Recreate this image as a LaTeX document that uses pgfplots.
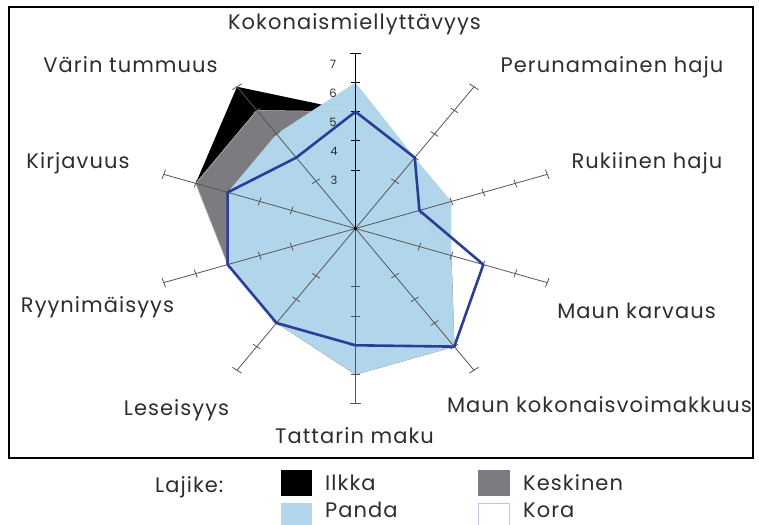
\documentclass[border=0pt]{standalone}
\usepackage{pgfplots}
\usepackage{pgfplotstable}
\pgfplotsset{compat=1.18}
\usepackage{fontspec}
\setmainfont{Poppins}[LetterSpace=5]
\definecolor{pandablue}{RGB}{177,214,236}
\definecolor{kesgray}{RGB}{125,123,127}
\definecolor{korablue}{RGB}{42,62,152}
\definecolor{txt}{RGB}{45,45,45}
\definecolor{spokec}{RGB}{85,85,85}
\definecolor{korabox}{RGB}{200,192,232}

% angle (deg) and scores on the 1-7 scale, first row repeated to close the polygon
\pgfplotstableread{
a    ilkka keskinen panda kora
90   5     5        6     5
54   4     4        4     4
18   3     3        4     3
-18  4     4        4     5
-54  6     6        6     6
-90  6     6        6     5
-126 5     5        5     5
-162 5     5        5     5
162  6     6        5     5
126  7     6        5     4
90   5     5        6     5
}\radar

\newcommand{\lab}{\fontsize{21}{24}\selectfont}

\begin{document}
\begin{tikzpicture}[x=1pt,y=1pt]
\useasboundingbox (0,0) rectangle (759,524);
\begin{axis}[scale only axis, width=759pt, height=524pt,
  at={(0,0)}, anchor=south west,
  xmin=-10.5804, xmax=12.0089, ymin=-10.1199, ymax=7.8253,
  hide axis, clip=false]
\addplot[fill=black, draw=none] table[x expr={(\thisrow{ilkka}-1)*cos(\thisrow{a})}, y expr={(\thisrow{ilkka}-1)*sin(\thisrow{a})}] {\radar};
\addplot[fill=kesgray, draw=none] table[x expr={(\thisrow{keskinen}-1)*cos(\thisrow{a})}, y expr={(\thisrow{keskinen}-1)*sin(\thisrow{a})}] {\radar};
\addplot[fill=pandablue, draw=none] table[x expr={(\thisrow{panda}-1)*cos(\thisrow{a})}, y expr={(\thisrow{panda}-1)*sin(\thisrow{a})}] {\radar};
\addplot[draw=gray!45, line width=0.5pt, forget plot] table[x expr={(\thisrow{keskinen}-1)*cos(\thisrow{a})}, y expr={(\thisrow{keskinen}-1)*sin(\thisrow{a})}] {\radar};
\pgfplotsextra{
  \foreach \k in {0,...,9}{
    \pgfmathsetmacro\th{90-36*\k}
    \pgfmathsetmacro\cth{cos(\th)}
    \pgfmathsetmacro\sth{sin(\th)}
    \ifnum\k=0 \def\spc{black}\def\spw{1.1pt}\else\def\spc{spokec}\def\spw{0.8pt}\fi
    \draw[color=\spc, line width=\spw] (axis cs:0,0) -- (axis cs:{6*\cth},{6*\sth});
    \foreach \r in {2,3,4,5}{
      \draw[color=\spc, line width=\spw] (axis cs:{\r*\cth-0.14*\sth},{\r*\sth+0.14*\cth}) -- (axis cs:{\r*\cth+0.14*\sth},{\r*\sth-0.14*\cth});
    }
    \draw[color=\spc, line width=\spw] (axis cs:{6*\cth-0.17*\sth},{6*\sth+0.17*\cth}) -- (axis cs:{6*\cth+0.17*\sth},{6*\sth-0.17*\cth});
  }
  \fill (axis cs:0,0) circle (1.8pt);
}
\addplot[draw=korablue, line width=2.6pt, line join=round] table[x expr={(\thisrow{kora}-1)*cos(\thisrow{a})}, y expr={(\thisrow{kora}-1)*sin(\thisrow{a})}] {\radar};
\end{axis}

% frame
\draw[line width=1.3pt] (9,517) rectangle (753,66);

% tick labels
\begin{scope}[every node/.style={font=\fontsize{11.5}{13}\selectfont, text=txt, inner sep=0pt}]
\node at (333,460) {7};
\node at (333,431) {6};
\node at (333,402) {5};
\node at (334,373) {4};
\node at (334,344) {3};
\end{scope}

% category labels
\begin{scope}[every node/.style={font=\lab, text=txt, inner sep=0pt, anchor=base}]
\node at (354.5,494) {Kokonaismiellyttävyys};
\node at (612,451) {Perunamainen haju};
\node at (647,355) {Rukiinen haju};
\node at (636.5,205) {Maun karvaus};
\node at (599.5,111) {Maun kokonaisvoimakkuus};
\node at (354.5,80) {Tattarin maku};
\node at (176.5,108) {Leseisyys};
\node at (97.5,211) {Ryynimäisyys};
\node at (78,355) {Kirjavuus};
\node at (130.5,451) {Värin tummuus};
\end{scope}

% legend
\begin{scope}[every node/.style={font=\lab, text=txt, inner sep=0pt, anchor=base west}]
\node at (155,31) {Lajike:};
\fill[black] (281,54) rectangle (312,28);
\node at (325,34) {Ilkka};
\fill[kesgray] (478,54) rectangle (510,28);
\node at (523,34) {Keskinen};
\fill[pandablue] (281,21) rectangle (312,-5);
\node at (325,7) {Panda};
\draw[korabox, fill=white, line width=0.8pt] (478.5,20.5) rectangle (509.5,-5);
\node at (523,7) {Kora};
\end{scope}
\end{tikzpicture}
\end{document}
